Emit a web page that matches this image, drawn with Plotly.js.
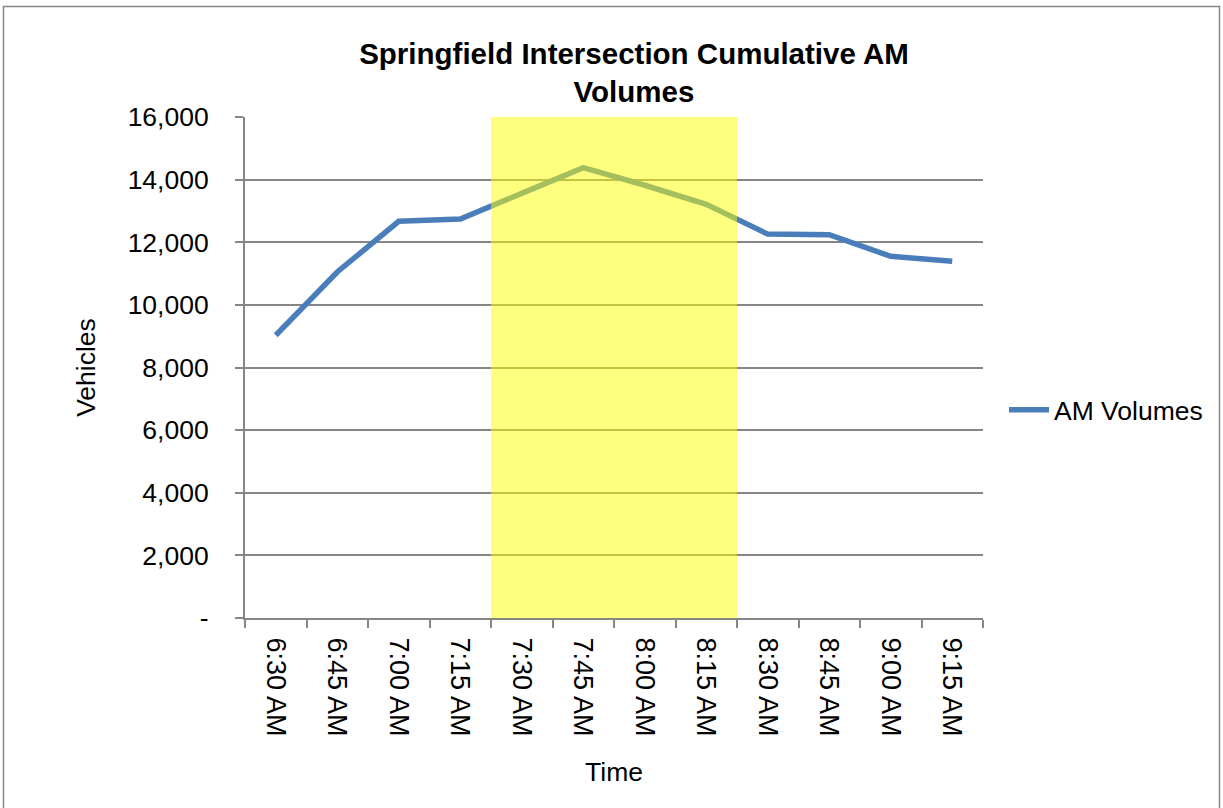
<!DOCTYPE html>
<html>
<head>
<meta charset="utf-8">
<script src="https://cdn.plot.ly/plotly-3.0.1.min.js"></script>
<style>html,body{margin:0;padding:0;background:#fff;}#chart{width:1223px;height:808px;}</style>
</head>
<body>
<div id="chart"></div>
<script>
const times = ['6:30 AM','6:45 AM','7:00 AM','7:15 AM','7:30 AM','7:45 AM','8:00 AM','8:15 AM','8:30 AM','8:45 AM','9:00 AM','9:15 AM'];
const volumes = [9030, 11050, 12670, 12740, 13560, 14380, 13820, 13210, 12260, 12240, 11550, 11390];
const yTickVals = [0, 2000, 4000, 6000, 8000, 10000, 12000, 14000, 16000];
const yTickText = ['-', '2,000', '4,000', '6,000', '8,000', '10,000', '12,000', '14,000', '16,000'];
const peakStart = '7:30 AM';
const peakEnd = '8:15 AM';

const font = 'Arial, "Liberation Sans", sans-serif';
const L = 245, R = 983, T = 117, B = 618, W = 1223, H = 808;
const px2x = p => (p - L) / (R - L);
const px2y = p => (B - p) / (B - T);

const trace = {
  x: times, y: volumes, type: 'scatter', mode: 'lines', name: 'AM Volumes',
  line: {color: '#4a7ebb', width: 5.5}
};

const layout = {
  width: W, height: H,
  margin: {l: L, r: W - R, t: T, b: H - B, pad: 0},
  paper_bgcolor: '#fff', plot_bgcolor: '#fff',
  font: {family: font, size: 26, color: '#000'},
  title: {
    text: '<b>Springfield Intersection Cumulative AM<br>Volumes</b>',
    font: {family: font, size: 29.5, color: '#000'},
    xref: 'paper', x: px2x(634), xanchor: 'center',
    yref: 'container', y: 1 - 64 / H, yanchor: 'top'
  },
  xaxis: {
    type: 'category', range: [-0.5, times.length - 0.5],
    tickson: 'boundaries', ticks: 'outside', ticklen: 8, tickwidth: 2, tickcolor: '#868686',
    showline: true, linecolor: '#868686', linewidth: 2, showgrid: false, zeroline: false,
    tickangle: 90, tickfont: {family: font, size: 27}, ticklabelstandoff: 12,
    automargin: true,
    title: {text: 'Time', font: {family: font, size: 26.5}, standoff: 27}
  },
  yaxis: {
    range: [0, 16000], tickvals: yTickVals, ticktext: yTickText,
    ticks: 'outside', ticklen: 8, tickwidth: 2, tickcolor: '#868686',
    showline: true, linecolor: '#868686', linewidth: 2,
    showgrid: true, gridcolor: '#868686', gridwidth: 2, zeroline: false,
    tickfont: {family: font, size: 26.5}, ticklabelstandoff: 21,
    automargin: true,
    title: {text: 'Vehicles', font: {family: font, size: 26.5}, standoff: 24}
  },
  showlegend: true,
  legend: {
    x: px2x(1004), y: px2y(410), xanchor: 'left', yanchor: 'middle',
    font: {family: font, size: 26.5}, bgcolor: 'rgba(0,0,0,0)', itemwidth: 40
  },
  shapes: [
    {type: 'rect', xref: 'x', yref: 'paper',
     x0: times.indexOf(peakStart) - 0.5, x1: times.indexOf(peakEnd) + 0.5, y0: 0, y1: 1,
     fillcolor: 'rgba(255,255,0,0.5)', line: {width: 0}, layer: 'above'},
    {type: 'rect', xref: 'paper', yref: 'paper',
     x0: px2x(3.5), x1: px2x(1219.5), y0: px2y(6.5), y1: px2y(830),
     fillcolor: 'rgba(0,0,0,0)', line: {color: '#868686', width: 1.5}, layer: 'below'}
  ]
};

Plotly.newPlot('chart', [trace], layout, {displayModeBar: false, staticPlot: true});
</script>
</body>
</html>
